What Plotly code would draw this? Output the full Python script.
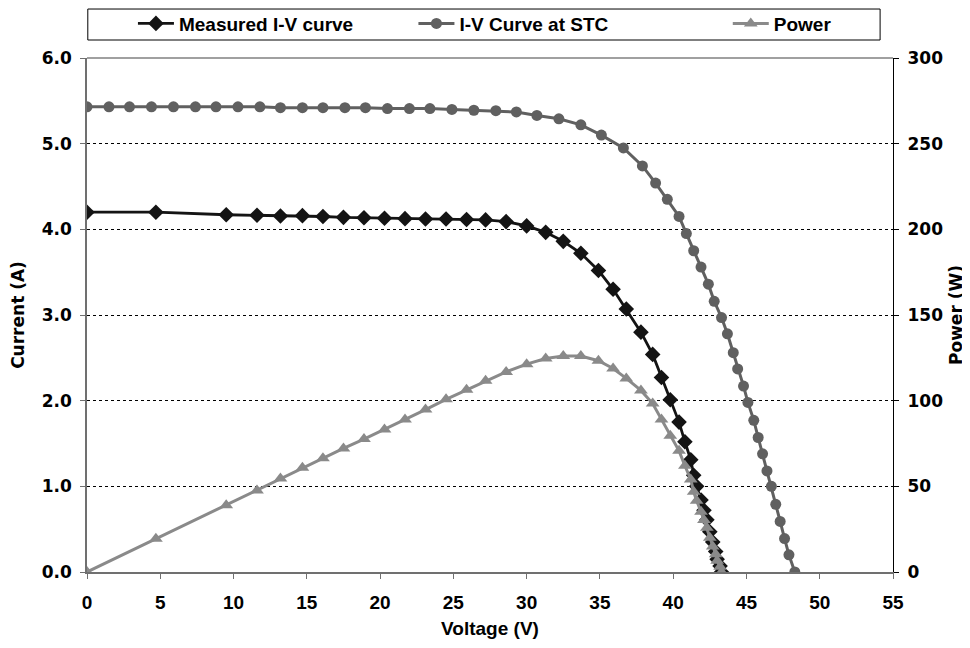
import plotly.graph_objects as go

# ---- data ----
v_meas = [0, 4.7, 9.5, 11.6, 13.2, 14.7, 16.1, 17.5, 18.9, 20.3, 21.7, 23.1, 24.5, 25.9,
          27.2, 28.6, 30.0, 31.3, 32.5, 33.7, 34.9, 35.9, 36.8, 37.8, 38.6, 39.2, 39.8,
          40.4, 40.8, 41.2, 41.4, 41.6, 41.9, 42.1, 42.3, 42.5, 42.7, 42.9, 43.0, 43.2, 43.3]
i_meas = [4.20, 4.20, 4.17, 4.165, 4.155, 4.16, 4.15, 4.14, 4.135, 4.13, 4.125, 4.12, 4.12, 4.115,
          4.11, 4.09, 4.04, 3.965, 3.86, 3.72, 3.52, 3.30, 3.07, 2.80, 2.54, 2.27, 2.01,
          1.75, 1.52, 1.31, 1.13, 1.00, 0.84, 0.72, 0.61, 0.47, 0.35, 0.24, 0.15, 0.07, 0.0]
p_meas = [0, 19.4, 38.9, 47.6, 54.5, 60.8, 66.4, 72.1, 77.6, 83.2, 89.0, 94.8, 100.8, 106.3,
          111.6, 116.8, 121.3, 124.6, 126.0, 126.0, 123.3, 118.8, 113.0, 106.0, 98.3, 89.0, 79.5,
          70.7, 62.0, 54.0, 46.8, 41.6, 35.2, 30.3, 25.8, 20.0, 14.9, 10.3, 6.5, 3.0, 0]

v_stc = [0, 1.5, 2.9, 4.4, 5.9, 7.4, 8.8, 10.3, 11.8, 13.2, 14.7, 16.1, 17.6, 19.0, 20.5,
         22.0, 23.4, 24.9, 26.4, 27.9, 29.3, 30.7, 32.2, 33.7, 35.1, 36.6, 37.9, 38.8, 39.6,
         40.4, 40.9, 41.4, 41.9, 42.4, 42.8, 43.3, 43.7, 44.1, 44.4, 44.8, 45.1, 45.5, 45.8,
         46.1, 46.4, 46.7, 47.0, 47.3, 47.6, 47.9, 48.3]
i_stc = [5.43, 5.43, 5.43, 5.43, 5.43, 5.43, 5.43, 5.43, 5.43, 5.42, 5.42, 5.42, 5.42, 5.42, 5.41,
         5.41, 5.41, 5.40, 5.39, 5.385, 5.37, 5.33, 5.29, 5.22, 5.10, 4.95, 4.74, 4.54, 4.35,
         4.15, 3.95, 3.75, 3.56, 3.36, 3.16, 2.97, 2.78, 2.56, 2.37, 2.17, 1.98, 1.77, 1.57,
         1.38, 1.18, 1.00, 0.79, 0.59, 0.39, 0.20, 0.0]

x_ticks = [0, 5, 10, 15, 20, 25, 30, 35, 40, 45, 50, 55]
y_ticks = [0, 1, 2, 3, 4, 5, 6]
y_tick_text = ["0.0", "1.0", "2.0", "3.0", "4.0", "5.0", "6.0"]
y2_ticks = [0, 50, 100, 150, 200, 250, 300]

names = ["Measured I-V curve", "I-V Curve at STC", "Power"]

LIB = "Liberation Sans, Arial, sans-serif"
DJV = "DejaVu Sans, Liberation Sans, sans-serif"

leg_font = dict(family=LIB, size=19, color="black", weight="bold")


def legend_at(x):
    return dict(orientation="h", x=x, xanchor="left", y=1.067, yanchor="middle",
                font=leg_font, bgcolor="rgba(0,0,0,0)", itemwidth=36,
                borderwidth=0)


fig = go.Figure()
fig.add_trace(go.Scatter(
    x=v_meas, y=i_meas, name=names[0], mode="lines+markers", legend="legend",
    line=dict(color="#141414", width=2.8),
    marker=dict(symbol="diamond", size=12, color="#141414"),
))
fig.add_trace(go.Scatter(
    x=v_stc, y=i_stc, name=names[1], mode="lines+markers", legend="legend2",
    line=dict(color="#606060", width=3),
    marker=dict(symbol="circle", size=11, color="#606060"),
))
fig.add_trace(go.Scatter(
    x=v_meas, y=p_meas, name=names[2], mode="lines+markers", yaxis="y2", legend="legend3",
    line=dict(color="#8a8a8a", width=3),
    marker=dict(symbol="triangle-up", size=12, color="#8a8a8a"),
))

# the page body has an 8px margin, so the figure is sized 8px smaller each way
fig.update_layout(
    width=962, height=640,
    margin=dict(l=79, r=77, t=50, b=76, autoexpand=False),
    paper_bgcolor="white", plot_bgcolor="white",
    showlegend=True,
    legend=legend_at(0.057),
    legend2=legend_at(0.405),
    legend3=legend_at(0.795),
    xaxis=dict(
        range=[0, 55], tickvals=x_ticks, showgrid=False, zeroline=False,
        showline=True, linecolor="#707070", linewidth=1.5,
        ticks="outside", ticklen=5, tickcolor="#707070",
        tickfont=dict(family=LIB, size=19, color="black", weight="bold"),
        ticklabelstandoff=7,
        title=dict(text="Voltage (V)", standoff=10,
                   font=dict(family=LIB, size=19, color="black", weight="bold")),
    ),
    yaxis=dict(
        range=[0, 6], tickvals=y_ticks, ticktext=y_tick_text,
        showgrid=True, gridcolor="black", gridwidth=1, griddash="3px,3px",
        zeroline=False, showline=True, linecolor="#707070", linewidth=1.5,
        ticks="outside", ticklen=5, tickcolor="#707070",
        tickfont=dict(family=DJV, size=17, color="black", weight="bold"),
        ticklabelstandoff=5,
        title=dict(text="Current (A)", standoff=13,
                   font=dict(family=DJV, size=17, color="black", weight="bold")),
    ),
    yaxis2=dict(
        range=[0, 300], tickvals=y2_ticks, overlaying="y", side="right",
        showgrid=False, zeroline=False, showline=True, linecolor="black", linewidth=1.2,
        ticks="outside", ticklen=5, tickcolor="black",
        tickfont=dict(family=DJV, size=17, color="black", weight="bold"),
        ticklabelstandoff=5,
        title=dict(text="Power (W)", standoff=7,
                   font=dict(family=DJV, size=17, color="black", weight="bold")),
    ),
    shapes=[
        dict(type="line", xref="paper", yref="paper", x0=0, x1=1, y0=1, y1=1,
             line=dict(color="#808080", width=1.5)),
        dict(type="rect", xref="paper", yref="paper", x0=0.001, x1=0.984, y0=1.035, y1=1.0953,
             line=dict(color="black", width=1), fillcolor="rgba(0,0,0,0)"),
    ],
)

fig.write_html("out.html")
